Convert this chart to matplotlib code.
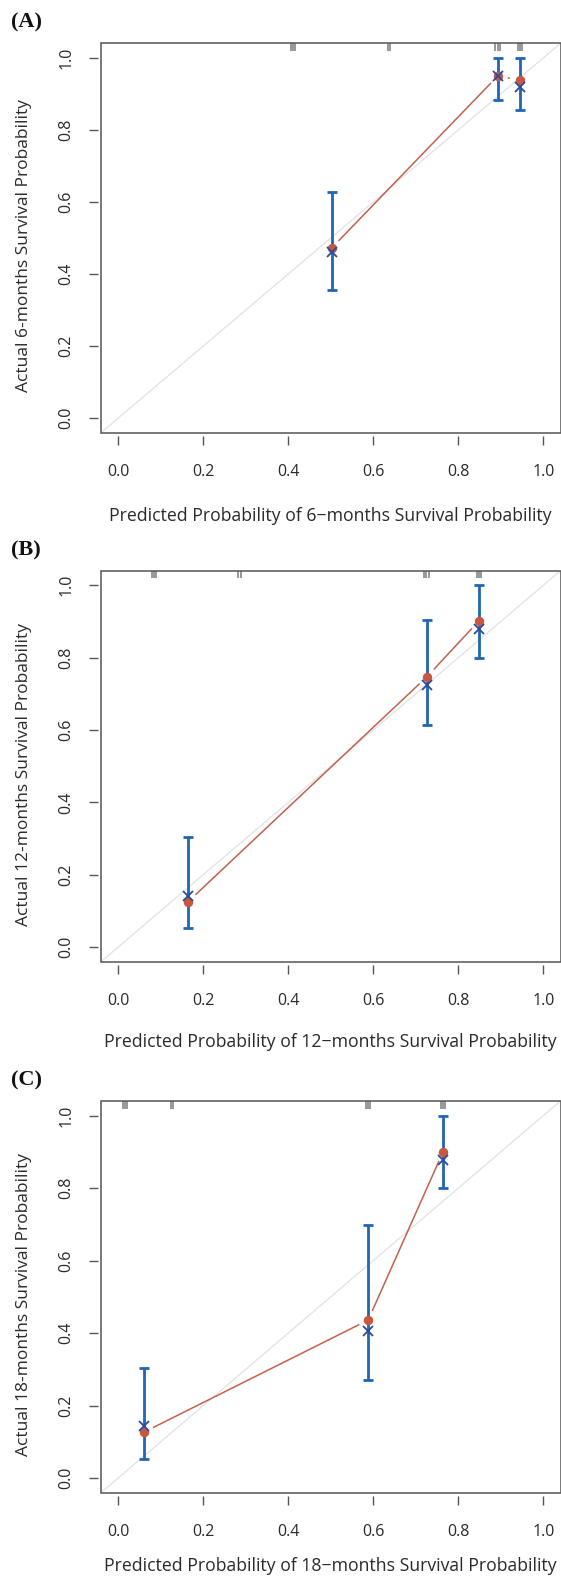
import matplotlib
matplotlib.use("Agg")
import matplotlib.pyplot as plt
import matplotlib.transforms as mtransforms
from matplotlib.patches import Rectangle
import numpy as np

plt.rcParams['font.family'] = ['Open Sans', 'DejaVu Sans']

# ---------------- data ----------------
panel_labels = ["(A)", "(B)", "(C)"]
months = ["6", "12", "18"]

pred_A = [0.502, 0.893, 0.944]
obs_A = [0.472, 0.950, 0.938]
km_A = [0.460, 0.950, 0.920]
lo_A = [0.355, 0.882, 0.854]
hi_A = [0.628, 1.000, 1.000]
rug_A = [0.406, 0.411, 0.416, 0.635, 0.640, 0.887, 0.892, 0.897, 0.939, 0.944, 0.949]

pred_B = [0.165, 0.726, 0.848]
obs_B = [0.126, 0.747, 0.901]
km_B = [0.141, 0.725, 0.879]
lo_B = [0.052, 0.614, 0.800]
hi_B = [0.305, 0.904, 1.000]
rug_B = [0.079, 0.084, 0.089, 0.283, 0.288, 0.720, 0.725, 0.730, 0.843, 0.848, 0.853]

pred_C = [0.061, 0.588, 0.764]
obs_C = [0.127, 0.436, 0.900]
km_C = [0.143, 0.405, 0.877]
lo_C = [0.052, 0.270, 0.800]
hi_C = [0.305, 0.699, 1.000]
rug_C = [0.011, 0.016, 0.021, 0.125, 0.130, 0.583, 0.588, 0.593, 0.759, 0.764, 0.769]

ticks = [0.0, 0.2, 0.4, 0.6, 0.8, 1.0]
tick_labels = ["0.0", "0.2", "0.4", "0.6", "0.8", "1.0"]

panels = [
    (pred_A, obs_A, km_A, lo_A, hi_A, rug_A),
    (pred_B, obs_B, km_B, lo_B, hi_B, rug_B),
    (pred_C, obs_C, km_C, lo_C, hi_C, rug_C),
]

# ---------------- layout ----------------
W, H = 561, 1580
fig = plt.figure(figsize=(W / 100, H / 100), dpi=100)
fig.patch.set_facecolor("white")

# (top_px, bottom_px) of each plot box
boxes = [(43.3, 432.7), (570.7, 961.7), (1101.0, 1492.7)]
xlabel_offsets = [83, 80, 73]
left_px, right_px = 101.0, 560.5

RED = "#c0624c"
DOT = "#c9573f"
BLUE = "#2065b4"
XBLUE = "#2a4c9c"
FRAME = "#555555"
TXT = "#2a2a2a"


def gapped_line(ax, xs, ys, gap_px, **kw):
    tr = ax.transData
    pts = tr.transform(np.column_stack([xs, ys]))
    for i in range(len(pts) - 1):
        p0, p1 = pts[i], pts[i + 1]
        d = p1 - p0
        L = np.hypot(*d)
        if L <= 2 * gap_px:
            continue
        u = d / L
        a = p0 + u * gap_px
        b = p1 - u * gap_px
        seg = tr.inverted().transform(np.vstack([a, b]))
        ax.plot(seg[:, 0], seg[:, 1], **kw)


for k, (pred, obs, km, lo, hi, rug) in enumerate(panels):
    top_px, bot_px = boxes[k]
    hpx = bot_px - top_px
    wpx = right_px - left_px
    ax = fig.add_axes([left_px / W, 1 - bot_px / H, wpx / W, hpx / H])
    ax.set_xlim(-0.04, 1.04)
    ax.set_ylim(-0.04, 1.04)
    ax.set_facecolor("white")

    # frame drawn separately, ticks detached from it
    for s in ax.spines.values():
        s.set_color("none")
    ax.spines['bottom'].set_position(('outward', 2.5))
    ax.spines['left'].set_position(('outward', 2.5))
    ax.add_patch(Rectangle((0, 0), 1, 1, transform=ax.transAxes, fill=False,
                           edgecolor=FRAME, lw=1.1, clip_on=False, zorder=6))

    ax.set_xticks(ticks)
    ax.set_xticklabels(tick_labels)
    ax.set_yticks(ticks)
    ax.set_yticklabels(tick_labels)
    ax.tick_params(axis='both', direction='out', length=6.8, width=1.0,
                   color=FRAME, labelsize=11.5, labelcolor=TXT)
    ax.tick_params(axis='x', pad=13.5)
    ax.tick_params(axis='y', pad=10.0, labelrotation=90)
    for lab in ax.get_yticklabels():
        lab.set_va('center')
    ax.tick_params(top=False, right=False)

    # ideal line
    ax.axline((0, 0), slope=1, color="#e2e2e2", lw=0.9, zorder=1)

    # rug at top
    rug_tr = mtransforms.blended_transform_factory(ax.transData, ax.transAxes)
    ax.vlines(rug, 1 - 7.5 / hpx, 1.0, transform=rug_tr,
              colors="#7c7c7c", lw=1.1, zorder=3)

    # error bars
    ax.errorbar(pred, km, yerr=[np.array(km) - np.array(lo), np.array(hi) - np.array(km)],
                fmt='none', ecolor=BLUE, elinewidth=2.0, capsize=3.6, capthick=2.0,
                zorder=4)

    # red line with gaps (type "b")
    gapped_line(ax, pred, obs, 10.0, color=RED, lw=1.1, zorder=3,
                solid_capstyle='butt')

    ax.plot(pred, obs, 'o', color=DOT, ms=5.8, mec=DOT, zorder=5)
    ax.plot(pred, km, 'x', color=XBLUE, ms=6.5, mew=1.3, zorder=5)

    m = months[k]
    ax.set_ylabel(f"Actual {m}-months Survival Probability", fontsize=12.5,
                  color=TXT)
    ax.yaxis.set_label_coords(-(left_px - 24) / wpx, 0.48)
    ax.set_xlabel(f"Predicted Probability of {m}\u2212months Survival Probability",
                  fontsize=12.7, color=TXT)
    ax.xaxis.set_label_coords((330.5 - left_px) / wpx, -xlabel_offsets[k] / hpx)
    ax.xaxis.label.set_va('center')
    ax.yaxis.label.set_va('center')

    fig.text(11 / W, 1 - (top_px - 20.5) / H, panel_labels[k], ha='left', va='center',
             fontsize=16, fontweight='bold', family=['Liberation Serif', 'DejaVu Serif'],
             color="#111111")

fig.savefig("out.png", dpi=100, facecolor="white")
